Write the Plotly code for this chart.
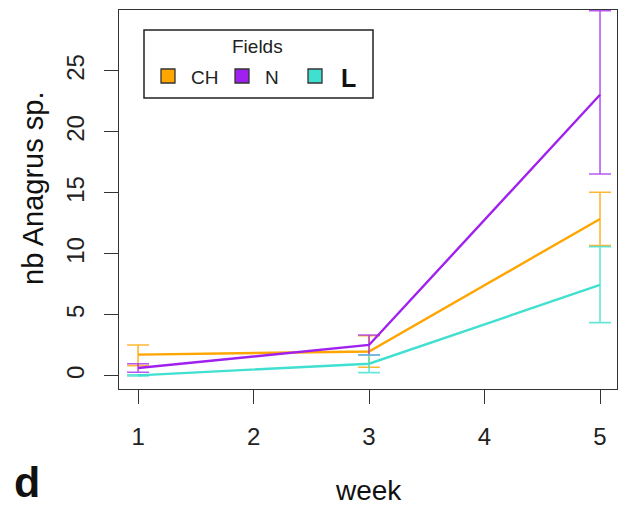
import plotly.graph_objects as go

weeks = [1, 3, 5]
fields = ["CH", "N", "L"]
colors = {"CH": "#FFA500", "N": "#A020F0", "L": "#40E0D0"}
err_colors = {"CH": "rgba(255,165,0,0.8)", "N": "rgba(160,32,240,0.75)", "L": "rgba(64,224,208,0.8)"}

mean_vals = {"CH": [1.75, 2.0, 12.87], "N": [0.65, 2.54, 23.05], "L": [0.05, 1.0, 7.46]}
upper_vals = {"CH": [2.54, 3.3, 15.06], "N": [1.0, 3.36, 29.95], "L": [0.1, 1.72, 10.6]}
lower_vals = {"CH": [0.85, 0.71, 10.68], "N": [0.3, 1.72, 16.56], "L": [0.0, 0.27, 4.37]}

yticks = [0, 5, 10, 15, 20, 25]
xticks = [1, 2, 3, 4, 5]

W, H = 620, 508
L_, R_, T_, B_ = 119, 3, 10, 119
pw, ph = W - L_ - R_, H - T_ - B_

def px(x):
    return (x - L_) / pw

def py(y):
    return (H - B_ - y) / ph

fig = go.Figure()
for f in fields:
    m = mean_vals[f]
    fig.add_trace(go.Scatter(
        x=weeks, y=m, mode="lines", name=f,
        line=dict(color=colors[f], width=2.4),
        error_y=dict(type="data", symmetric=False,
                     array=[u - v for u, v in zip(upper_vals[f], m)],
                     arrayminus=[v - l for v, l in zip(m, lower_vals[f])],
                     color=err_colors[f], thickness=1.6, width=11),
        showlegend=False))

font = "Liberation Sans, Arial, sans-serif"
axis_common = dict(showline=True, linecolor="#333", linewidth=1.2, mirror=True,
                   ticks="outside", ticklen=14, tickwidth=1.2, tickcolor="#333",
                   showgrid=False, zeroline=False,
                   tickfont=dict(family=font, size=24, color="#222"))

fig.update_layout(
    width=W, height=H, margin=dict(l=L_, r=R_, t=T_, b=B_),
    paper_bgcolor="white", plot_bgcolor="white",
    xaxis=dict(range=[0.835, 5.147], tickvals=xticks, ticklabelstandoff=12, **axis_common),
    yaxis=dict(range=[-1.07, 30.0], tickvals=yticks, tickangle=-90, ticklabelstandoff=10, **axis_common),
)

shapes = []
annotations = []
# legend box
shapes.append(dict(type="rect", xref="paper", yref="paper",
                   x0=px(144), x1=px(373), y0=py(98), y1=py(30),
                   line=dict(color="#222", width=1.5), fillcolor="white", layer="above"))
annotations.append(dict(text="Fields", xref="paper", yref="paper", x=px(257), y=py(46),
                        showarrow=False, font=dict(family=font, size=19, color="#222"),
                        xanchor="center", yanchor="middle"))
sq_x = {"CH": 168, "N": 242, "L": 315}
lab_x = {"CH": 204, "N": 272, "L": 348}
for f in fields:
    cx, cy = sq_x[f], 76
    shapes.append(dict(type="rect", xref="paper", yref="paper",
                       x0=px(cx - 7), x1=px(cx + 7), y0=py(cy + 7), y1=py(cy - 7),
                       line=dict(color="#333", width=1.3), fillcolor=colors[f], layer="above"))
    if f == "L":
        annotations.append(dict(text="<b>L</b>", xref="paper", yref="paper", x=px(lab_x[f]), y=py(78),
                                showarrow=False, font=dict(family=font, size=25, color="#111"),
                                xanchor="center", yanchor="middle"))
    else:
        annotations.append(dict(text=f, xref="paper", yref="paper", x=px(lab_x[f]), y=py(77),
                                showarrow=False, font=dict(family=font, size=19, color="#222"),
                                xanchor="center", yanchor="middle"))

annotations.append(dict(text="week", xref="paper", yref="paper", x=px(368), y=py(490),
                        showarrow=False, font=dict(family=font, size=28, color="#111"),
                        xanchor="center", yanchor="middle"))
annotations.append(dict(text="nb Anagrus sp.", xref="paper", yref="paper", x=px(33), y=py(189),
                        showarrow=False, textangle=-90, font=dict(family=font, size=29, color="#111"),
                        xanchor="center", yanchor="middle"))
annotations.append(dict(text="<b>d</b>", xref="paper", yref="paper", x=px(27), y=py(482),
                        showarrow=False, font=dict(family=font, size=43, color="#111"),
                        xanchor="center", yanchor="middle"))

fig.update_layout(shapes=shapes, annotations=annotations)
fig.write_html("out.html")
